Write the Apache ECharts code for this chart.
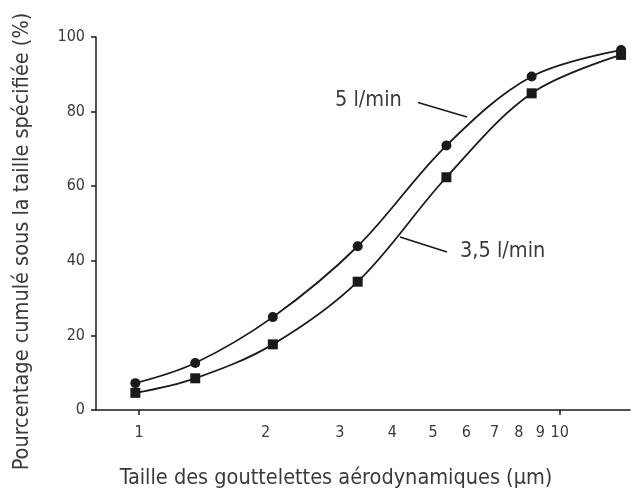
<!DOCTYPE html>
<html>
<head>
<meta charset="utf-8">
<script src="https://cdn.jsdelivr.net/npm/echarts@6/dist/echarts.min.js"></script>
<style>
html,body{margin:0;padding:0;background:#fff;}
#c{width:631px;height:494px;}
</style>
</head>
<body>
<div id="c"></div>
<script>
// Data
const sizes = [0.98, 1.36, 2.08, 3.31, 5.38, 8.58, 14.0];          // µm
const flow5 = [7.2, 12.6, 24.9, 43.9, 70.9, 89.4, 96.5];           // 5 l/min
const flow35 = [4.6, 8.5, 17.6, 34.4, 62.4, 84.9, 95.2];           // 3,5 l/min
const xTickLabels = [1, 2, 3, 4, 5, 6, 7, 8, 9, 10];
const xTickMarks = [1, 10];
const yTicks = [0, 20, 40, 60, 80, 100];

const FONT = "'DejaVu Sans Condensed', 'Liberation Sans Narrow', sans-serif";
const TXT = '#3a3a3a';
const INK = '#1a1a1a';

const chart = echarts.init(document.getElementById('c'), null, {renderer: 'canvas'});

function pairs(ys) { return sizes.map((x, i) => [x, ys[i]]); }

chart.setOption({
  animation: false,
  backgroundColor: '#fff',
  grid: {left: 96, top: 37, right: 1, bottom: 83, containLabel: false},
  xAxis: {
    type: 'log',
    logBase: 10,
    min: 0.79,
    max: 14.7,
    name: 'Taille des gouttelettes aérodynamiques (µm)',
    nameLocation: 'middle',
    nameGap: 57,
    nameTextStyle: {fontFamily: FONT, fontSize: 21.5, color: TXT, padding: [0, 54, 0, 0]},
    axisLine: {show: true, onZero: false, lineStyle: {color: INK, width: 1.5}},
    axisTick: {show: true, customValues: xTickMarks, length: 5, lineStyle: {color: INK, width: 1.5}},
    axisLabel: {show: true, customValues: xTickLabels, margin: 15, fontFamily: FONT, fontSize: 16, color: TXT},
    splitLine: {show: false},
    minorTick: {show: false}
  },
  yAxis: {
    type: 'value',
    min: 0, max: 100, interval: 20,
    name: 'Pourcentage cumulé sous la taille spécifiée (%)',
    nameLocation: 'middle',
    nameGap: 63,
    nameRotate: 90,
    nameTextStyle: {fontFamily: FONT, fontSize: 21.5, color: TXT, padding: [0, 36, 0, 0]},
    axisLine: {show: true, lineStyle: {color: INK, width: 1.5}},
    axisTick: {show: true, length: 5, lineStyle: {color: INK, width: 1.5}},
    axisLabel: {margin: 11, fontFamily: FONT, fontSize: 16, color: TXT},
    splitLine: {show: false}
  },
  series: [
    {
      name: '5 l/min',
      type: 'line',
      data: pairs(flow5),
      smooth: 0.35,
      symbol: 'circle',
      symbolSize: 10,
      showAllSymbol: true,
      lineStyle: {color: INK, width: 1.8},
      itemStyle: {color: INK, borderWidth: 0}
    },
    {
      name: '3,5 l/min',
      type: 'line',
      data: pairs(flow35),
      smooth: 0.35,
      symbol: 'rect',
      symbolSize: 10,
      showAllSymbol: true,
      lineStyle: {color: INK, width: 1.8},
      itemStyle: {color: INK, borderWidth: 0}
    }
  ],
  graphic: [
    {type: 'text', left: 335, top: 89, style: {text: '5 l/min', font: '21.5px ' + FONT, fill: TXT}},
    {type: 'line', shape: {x1: 418, y1: 102.5, x2: 467, y2: 117}, style: {stroke: INK, lineWidth: 1.6}},
    {type: 'text', left: 460, top: 240, style: {text: '3,5 l/min', font: '21.5px ' + FONT, fill: TXT}},
    {type: 'line', shape: {x1: 400, y1: 237, x2: 447, y2: 252}, style: {stroke: INK, lineWidth: 1.6}}
  ]
});
</script>
</body>
</html>
